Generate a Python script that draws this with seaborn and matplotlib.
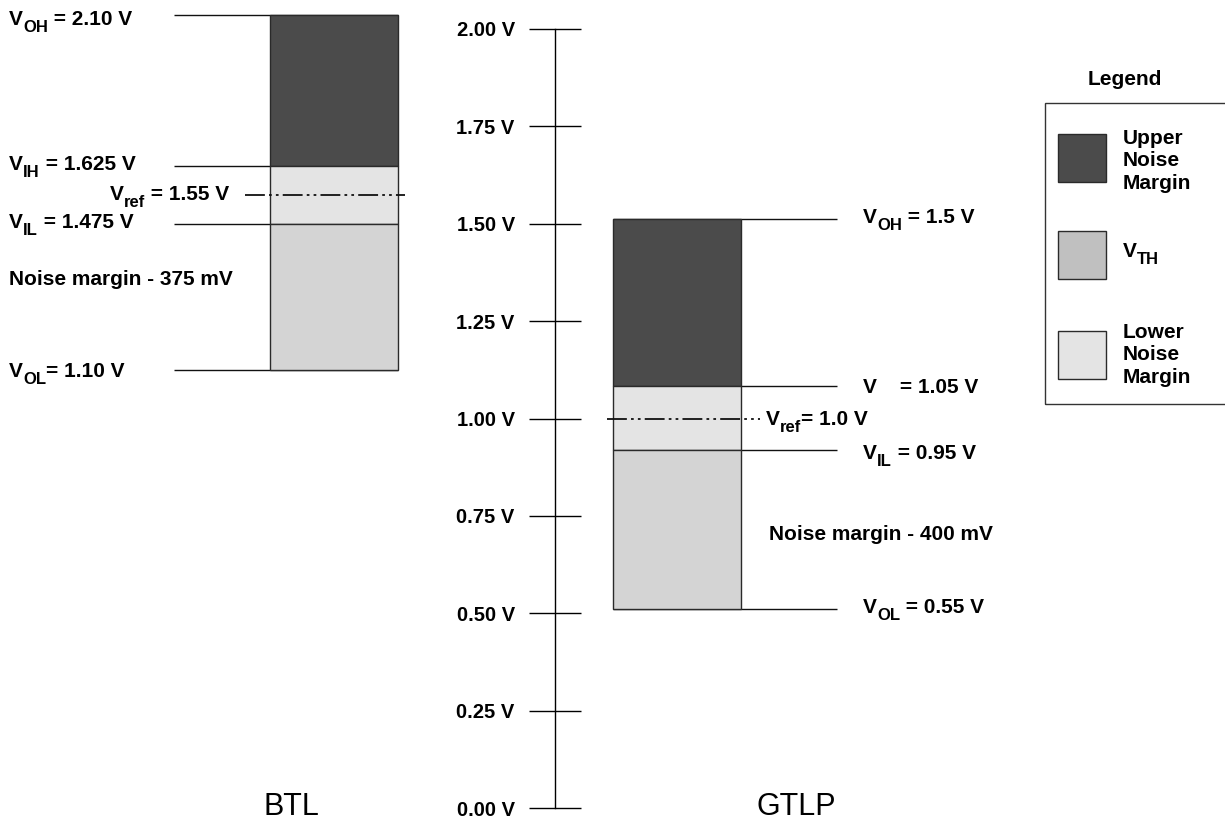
import matplotlib
matplotlib.use('Agg')
import matplotlib.pyplot as plt
from matplotlib.patches import Rectangle
import seaborn as sns

sns.set_theme(style="white")
plt.rcParams['font.family'] = ['Liberation Sans', 'DejaVu Sans']
plt.rcParams['text.color'] = 'black'
plt.rcParams['ytick.color'] = 'black'

# middle voltage scale
axis_ticks = [0.0, 0.25, 0.5, 0.75, 1.0, 1.25, 1.5, 1.75, 2.0]
tick_labels = ['0.00 V', '0.25 V', '0.50 V', '0.75 V', '1.00 V',
               '1.25 V', '1.50 V', '1.75 V', '2.00 V']

btl_levels = [2.036, 1.648, 1.574, 1.499, 1.124]
gtlp_levels = [1.512, 1.083, 0.998, 0.920, 0.512]

# (main, subscript, rest)
btl_labels = [('V', 'OH', ' = 2.10 V'), ('V', 'IH', ' = 1.625 V'),
              ('V', 'ref', ' = 1.55 V'), ('V', 'IL', ' = 1.475 V'),
              ('V', 'OL', '= 1.10 V')]
gtlp_labels = [('V', 'OH', ' = 1.5 V'), ('V    = 1.05 V', '', ''),
               ('V', 'ref', '= 1.0 V'), ('V', 'IL', ' = 0.95 V'),
               ('V', 'OL', ' = 0.55 V')]
margin_notes = ['Noise margin - 375 mV', 'Noise margin - 400 mV']
families = ['BTL', 'GTLP']

legend_labels = [('Upper\nNoise\nMargin', ''), ('V', 'TH'), ('Lower\nNoise\nMargin', '')]
legend_colors = ['#4b4b4b', '#c0c0c0', '#e4e4e4']
band_colors = ['#4b4b4b', '#e4e4e4', '#d4d4d4']   # upper, threshold band, lower

# pixel -> volts helper for layout (0 V at y=808 px, 2 V at y=29 px)
PX_PER_V = 389.5
ZERO_PX = 808


def yv(px):
    return (ZERO_PX - px) / PX_PER_V


fig = plt.figure(figsize=(12.25, 8.25), dpi=100)
ax = fig.add_axes([0, 0, 1, 1])
ax.set_xlim(0, 1225)
ax.set_ylim(yv(825), yv(0))
ax.set_facecolor('white')

fs = 15


def sub_label(x, py, main, sub='', rest='', size=fs):
    t1 = ax.text(x, yv(py), main, fontsize=size, fontweight='bold', va='baseline', ha='left')
    if not sub:
        return t1
    t2 = ax.annotate(sub, xy=(1, 0), xycoords=t1, xytext=(0, -4), textcoords='offset points',
                     fontsize=size * 0.8, fontweight='bold', va='bottom', ha='left')
    if rest:
        ax.annotate(rest, xy=(1, 0), xycoords=(t2, t1), fontsize=size, fontweight='bold',
                    va='bottom', ha='left')
    return t1


# axis in the middle
sns.despine(ax=ax, left=False, bottom=True)
ax.spines['left'].set_position(('data', 555))
ax.spines['left'].set_bounds(0, 2)
ax.spines['left'].set_color('black')
ax.spines['left'].set_linewidth(1)
ax.set_xticks([])
ax.set_yticks(axis_ticks)
ax.set_yticklabels(tick_labels, fontsize=14.5, fontweight='bold')
ax.tick_params(axis='y', direction='inout', length=38, width=1, color='black',
               labelcolor='black', pad=10, left=True)

bar_x = [270, 613]
bar_w = 128
line_span = [(174, 398), (613, 837)]
ref_span = [(245, 405), (607, 760)]

for levels, x0, (l0, l1), (r0, r1) in zip([btl_levels, gtlp_levels], bar_x, line_span, ref_span):
    voh, vih, vref, vil, vol = levels
    ax.hlines([voh, vih, vil, vol], l0, l1, color='#111111', lw=1, zorder=1)
    tops = [voh, vih, vil]
    bottoms = [vih, vil, vol]
    for top, bot, c in zip(tops, bottoms, band_colors):
        ax.bar(x0, top - bot, width=bar_w, bottom=bot, align='edge', color=c,
               edgecolor='#2a2a2a', linewidth=1, zorder=2)
    ax.plot([r0, r1], [vref, vref], color='#111111', lw=1.3, zorder=3,
            dashes=(11, 2.3, 1.5, 2.3, 1.5, 2.3))

# BTL labels
btl_pos = [(9, 25), (9, 170), (110, 200), (9, 228), (9, 377)]
for (x, py), lab in zip(btl_pos, btl_labels):
    sub_label(x, py, *lab)
sub_label(9, 285, margin_notes[0])

# GTLP labels
gtlp_pos = [(863, 223), (863, 393), (766, 425), (863, 459), (863, 613)]
for (x, py), lab in zip(gtlp_pos, gtlp_labels):
    sub_label(x, py, *lab)
sub_label(769, 540, margin_notes[1])

# family names
for name, cx in zip(families, [291, 796]):
    ax.text(cx, yv(815), name, fontsize=22, ha='center', va='baseline')

# legend
ax.text(1125, yv(85), 'Legend', fontsize=fs, fontweight='bold', ha='center', va='baseline')
ax.add_patch(Rectangle((1045, yv(404)), 200, yv(103) - yv(404), fill=False,
                       edgecolor='#333333', lw=1, zorder=4))
patch_tops = [134, 231, 331]
text_base = [144, 257, 338]
for top, tb, c, (lab, sub) in zip(patch_tops, text_base, legend_colors, legend_labels):
    ax.add_patch(Rectangle((1058, yv(top + 48)), 48, 48 / PX_PER_V, facecolor=c,
                           edgecolor='#2a2a2a', lw=1, zorder=4))
    for i, line in enumerate(lab.split('\n')):
        sub_label(1123, tb + 22.5 * i, line, sub)

fig.savefig('out.png', dpi=100)
